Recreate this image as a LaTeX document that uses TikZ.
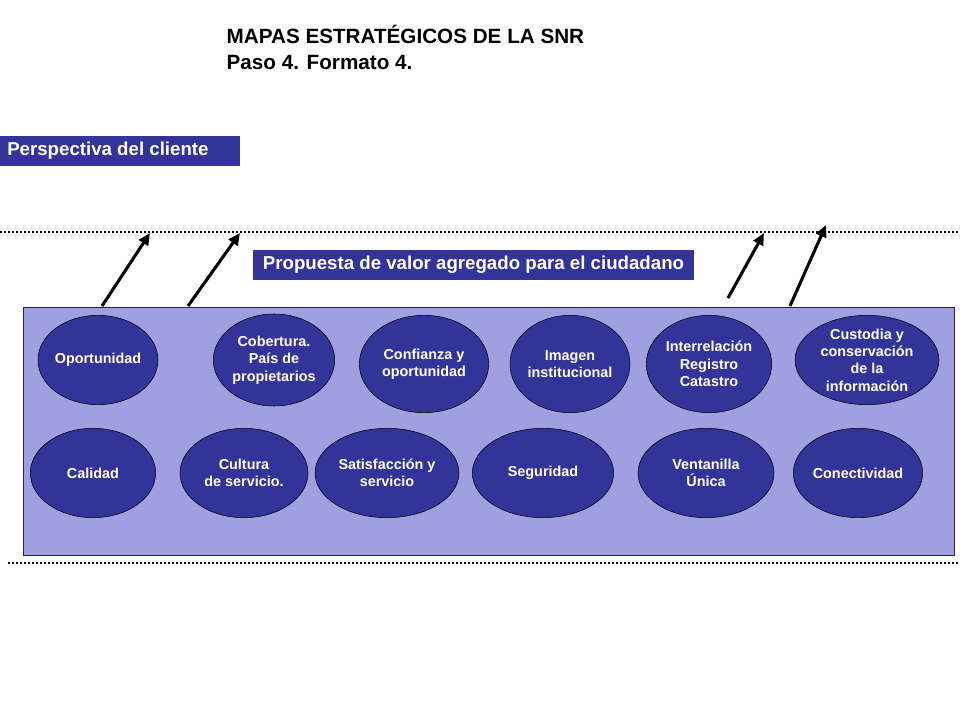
\documentclass[tikz,border=0pt]{standalone}
\usepackage{fontspec}
\setmainfont{Liberation Sans}
\usetikzlibrary{shapes.geometric,arrows.meta}
\definecolor{dblue}{HTML}{333399}
\definecolor{lblue}{HTML}{A0A0E0}
\tikzset{
 ell/.style={ellipse,draw=black,fill=dblue,text=white,font=\bfseries\fontsize{10.8}{13}\selectfont,align=center,inner sep=-2pt},
 band/.style={fill=dblue,text=white,font=\bfseries\fontsize{14}{16}\selectfont,inner sep=0pt},
 dots/.style={line width=2pt,dash pattern=on 1.5pt off 1.5pt},
 arr/.style={line width=2.3pt,-{Triangle[length=9pt,width=8pt]}}
}
\begin{document}
\begin{tikzpicture}[x=0.75pt,y=-0.75pt]
\useasboundingbox (0,0) rectangle (960,720);
\node[anchor=north west,align=left,font=\bfseries\fontsize{15.5}{19.5}\selectfont] (title) at (222,20) {MAPAS ESTRATÉGICOS DE LA SNR\\Paso 4. Formato 4.};
\fill[dblue] (0,136) rectangle (240,166);
\node[band,anchor=west] (persp) at (7,151) {Perspectiva del cliente};
\draw[dots] (0,232) -- (960,232);
\draw[dots] (8,563) -- (960,563);
\fill[dblue] (253,250) rectangle (694,280);
\node[band] (prop) at (473.5,265) {Propuesta de valor agregado para el ciudadano};
\draw[fill=lblue,draw=dblue!60!black] (23,307) rectangle (954,555);
\node[ell,minimum width=90pt,minimum height=67pt] (e1) at (98,360) {Oportunidad};
\node[ell,minimum width=91pt,minimum height=69pt] (e2) at (274,360) {Cobertura.\\País de\\propietarios};
\node[ell,minimum width=97pt,minimum height=73pt] (e3) at (424,364) {Confianza y\\oportunidad};
\node[ell,minimum width=90pt,minimum height=73pt] (e4) at (570,364) {Imagen\\institucional};
\node[ell,minimum width=94pt,minimum height=73pt] (e5) at (709,364) {Interrelación\\Registro\\Catastro};
\node[ell,minimum width=108pt,minimum height=67pt] (e6) at (867,360) {Custodia y\\conservación\\de la\\información};
\node[ell,minimum width=94pt,minimum height=67pt] (f1) at (93,473) {Calidad};
\node[ell,minimum width=96pt,minimum height=67pt] (f2) at (244,473) {Cultura\\de servicio.};
\node[ell,minimum width=108pt,minimum height=67pt] (f3) at (387,473) {Satisfacción  y\\servicio};
\node[ell,minimum width=106pt,minimum height=67pt] (f4) at (543,473) {Seguridad};
\node[ell,minimum width=102pt,minimum height=67pt] (f5) at (706,473) {Ventanilla\\Única};
\node[ell,minimum width=97pt,minimum height=67pt] (f6) at (858,473) {Conectividad};
\coordinate (a1s) at (102,306); \coordinate (a1e) at (150,233);
\coordinate (a2s) at (188,306); \coordinate (a2e) at (240,233);
\coordinate (a3s) at (728,298); \coordinate (a3e) at (764,233);
\coordinate (a4s) at (790,306); \coordinate (a4e) at (826,225);
\draw[arr] (a1s) -- (a1e);
\draw[arr] (a2s) -- (a2e);
\draw[arr] (a3s) -- (a3e);
\draw[arr] (a4s) -- (a4e);
\end{tikzpicture}
\end{document}
